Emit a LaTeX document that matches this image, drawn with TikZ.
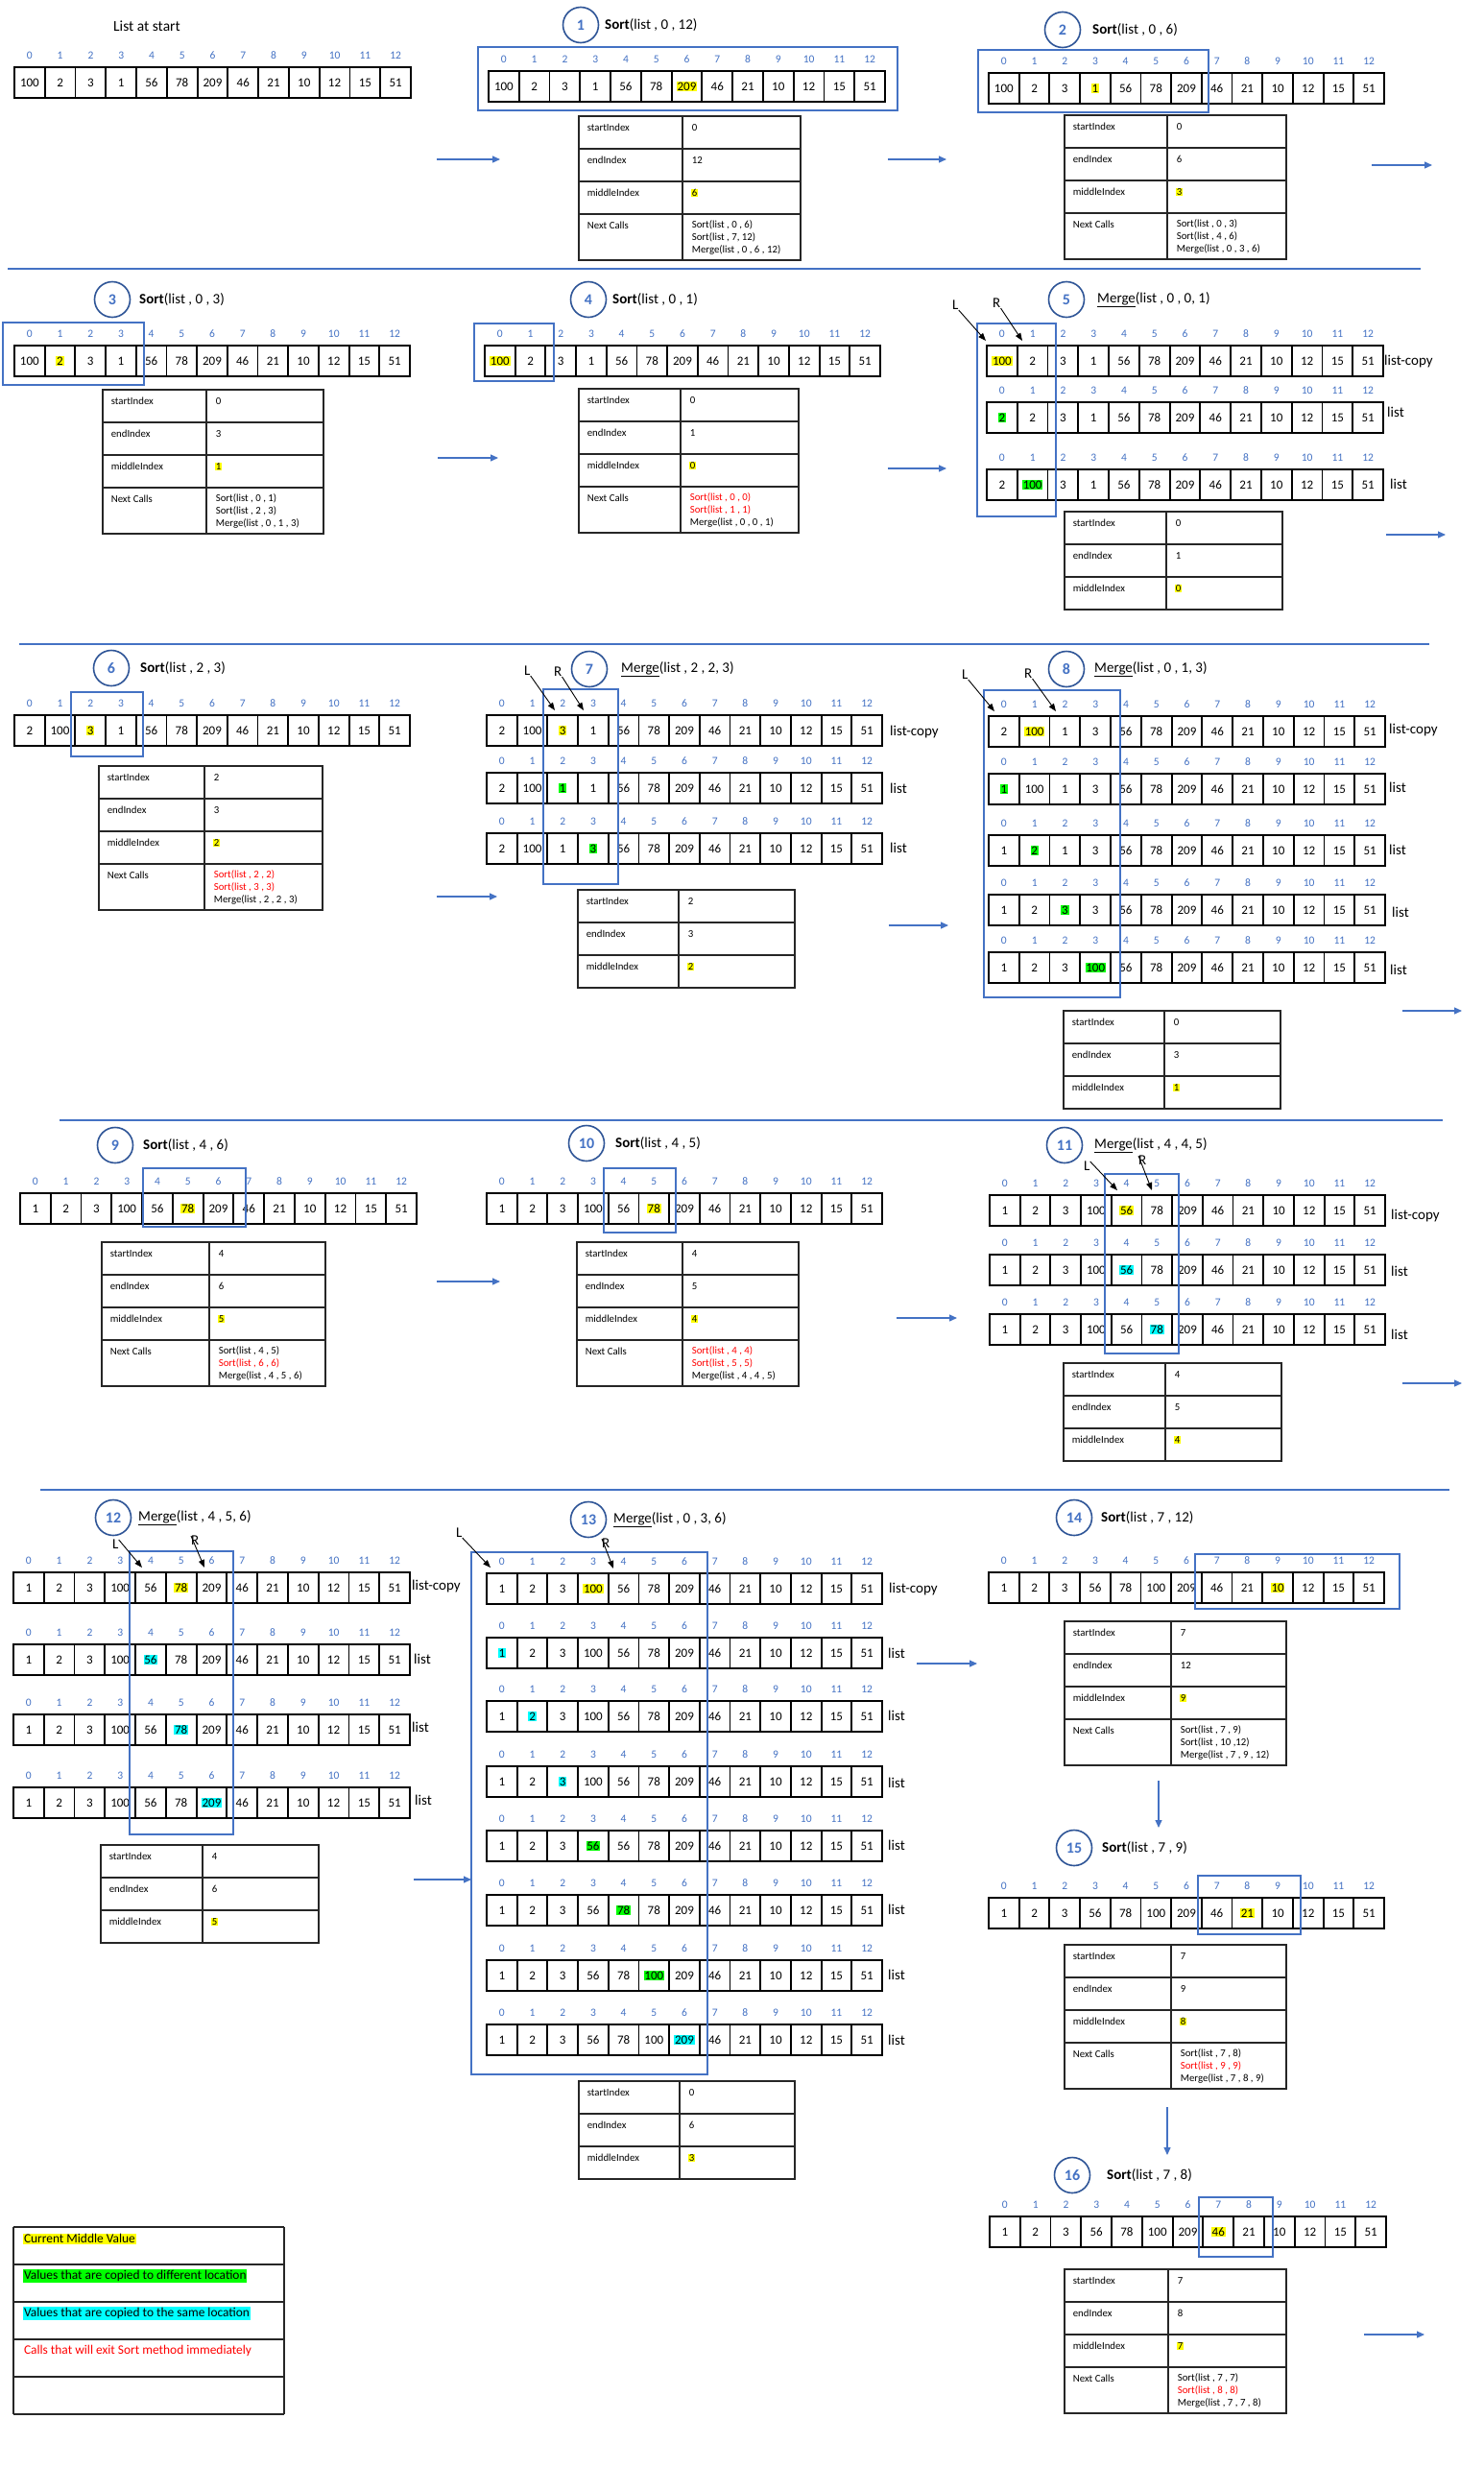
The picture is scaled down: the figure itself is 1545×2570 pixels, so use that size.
\documentclass[tikz,border=0pt]{standalone}
\usepackage{fontspec}
\setmainfont{Carlito}
\usetikzlibrary{arrows.meta}
\definecolor{ib}{HTML}{4472C4}
\definecolor{cb}{HTML}{2F5597}
\definecolor{hy}{HTML}{FFFF00}
\definecolor{hg}{HTML}{00FF00}
\definecolor{hc}{HTML}{00FFFF}
\definecolor{hr}{HTML}{FF0000}
\tikzset{
 cellbox/.style={draw=black, line width=1.8pt, inner sep=0pt, outer sep=0pt},
 valtxt/.style={font=\fontsize{13}{13}\selectfont, inner sep=0.8pt, text=black},
 idxtxt/.style={font=\fontsize{11.5}{11.5}\selectfont, text=ib, inner sep=0pt},
 framebox/.style={draw=ib, line width=2pt},
 numcirc/.style={circle, draw=cb, line width=1.6pt, minimum size=37pt, inner sep=0pt, text=ib, font=\fontsize{16}{16}\selectfont\bfseries},
 titletxt/.style={anchor=west, font=\fontsize{15}{15}\selectfont, inner sep=0pt},
 tline/.style={draw=black!85, line width=1.2pt},
 tlab/.style={anchor=west, font=\fontsize{10.8}{10.8}\selectfont, inner sep=0.6pt},
 flow/.style={draw=ib, line width=1.2pt, -{Triangle[length=8pt,width=7pt]}},
 ptr/.style={draw=black, line width=0.9pt, -{Triangle[length=8pt,width=6pt]}},
 ltxt/.style={anchor=west, font=\fontsize{15}{15}\selectfont, inner sep=0pt},
 sep/.style={draw=ib, line width=1.2pt},
 legtxt/.style={anchor=west, font=\fontsize{13.4}{13.4}\selectfont, inner sep=0.8pt},
}
% array: name, xleft, xright, ytop, height, values, highlight index, highlight colour
\newcommand\arr[8]{%
 \pgfmathsetmacro\cw{(#3-#2)/13}%
 \pgfmathsetmacro\cy{#4+#5/2}%
 \foreach \v [count=\i from 0] in {#6}{%
   \pgfmathsetmacro\cx{#2+(\i+0.5)*\cw}%
   \ifnum\i=#7\relax\def\hlc{#8}\else\def\hlc{none}\fi
   \node[cellbox, minimum width=\cw pt, minimum height=#5pt] (#1c\i) at (\cx,\cy) {};
   \node[valtxt, fill=\hlc] (#1v\i) at (\cx,\cy) {\v};
   \node[idxtxt] (#1i\i) at (\cx,{#4-12.5}) {\i};
 }%
 \draw[line width=2.6pt] (#2,#4) rectangle (#3,{#4+#5});
}
% table: name, xl, xs, xr, ytop, start, end, middle
\newcommand\tbl[8]{%
 \foreach \k/\lab in {0/startIndex,1/endIndex,2/middleIndex}{%
   \draw[tline] (#2,{#5+34*\k}) rectangle (#3,{#5+34*(\k+1)});
   \draw[tline] (#3,{#5+34*\k}) rectangle (#4,{#5+34*(\k+1)});
   \node[tlab] (#1l\k) at ({#2+8},{#5+34*\k+12}) {\lab};
 }%
 \node[tlab] (#1s) at ({#3+9},{#5+12}) {#6};
 \node[tlab] (#1e) at ({#3+9},{#5+46}) {#7};
 \node[tlab, fill=hy] (#1m) at ({#3+9},{#5+80}) {#8};
}
\newcommand\nxt[8]{%
 \draw[tline] (#2,{#5+102}) rectangle (#3,{#5+150});
 \draw[tline] (#3,{#5+102}) rectangle (#4,{#5+150});
 \node[tlab] (#1nl) at ({#2+8},{#5+114}) {Next Calls};
 \node[tlab] (#1n1) at ({#3+9},{#5+113}) {#6};
 \node[tlab] (#1n2) at ({#3+9},{#5+126}) {#7};
 \node[tlab] (#1n3) at ({#3+9},{#5+139}) {#8};
}
% head: name, cx, cy, number, title x, title
\newcommand\head[6]{%
 \node[numcirc] (#1n) at (#2,#3) {#4};
 \node[titletxt] (#1t) at (#5,#3) {#6};
}
\newcommand\flowarrow[5]{%
 \coordinate (#1s) at (#2,#3); \coordinate (#1e) at (#4,#5);
 \draw[flow] (#1s) -- (#1e);
}
\newcommand\red[1]{\textcolor{hr}{#1}}
\begin{document}
\begin{tikzpicture}[x=1pt,y=-1pt]
\useasboundingbox (0,0) rectangle (1545,2570);
\fill[white] (0,0) rectangle (1545,2570);
% separators
\draw[sep] (8,280) -- (1480,280);
\draw[sep] (20,671) -- (1489,671);
\draw[sep] (62,1167) -- (1503,1167);
\draw[sep] (42,1552) -- (1510,1552);

% ---------- P0
\node[font=\fontsize{15.5}{15.5}\selectfont] (p0t) at (153,27) {List at start};
\arr{p0}{15}{428}{70}{32}{100,2,3,1,56,78,209,46,21,10,12,15,51}{-1}{none}

% ---------- P1
\head{p1}{605}{26}{1}{630}{{\bfseries Sort}(list , 0 , 12)}
\arr{p1}{509}{922}{74}{32}{100,2,3,1,56,78,209,46,21,10,12,15,51}{6}{hy}
\draw[framebox] (498,49) rectangle (935,115);
\tbl{p1}{603}{711}{834}{121}{0}{12}{6}
\nxt{p1}{603}{711}{834}{121}{Sort(list , 0 , 6)}{Sort(list , 7, 12)}{Merge(list , 0 , 6 , 12)}
\flowarrow{a1}{455}{166}{521}{166}
\flowarrow{a2}{925}{166}{986}{166}

% ---------- P2
\head{p2}{1107}{31}{2}{1138}{{\bfseries Sort}(list , 0 , 6)}
\arr{p2}{1030}{1442}{76}{32}{100,2,3,1,56,78,209,46,21,10,12,15,51}{3}{hy}
\draw[framebox] (1019,52) rectangle (1259,117);
\tbl{p2}{1109}{1216}{1340}{120}{0}{6}{3}
\nxt{p2}{1109}{1216}{1340}{120}{Sort(list , 0 , 3)}{Sort(list , 4 , 6)}{Merge(list , 0 , 3 , 6)}
\flowarrow{a3}{1429}{172}{1492}{172}

% ---------- P3
\head{p3}{117}{312}{3}{145}{{\bfseries Sort}(list , 0 , 3)}
\arr{p3}{15}{427}{360}{32}{100,2,3,1,56,78,209,46,21,10,12,15,51}{1}{hy}
\draw[framebox] (3,336) rectangle (150,401);
\tbl{p3}{107}{215}{337}{406}{0}{3}{1}
\nxt{p3}{107}{215}{337}{406}{Sort(list , 0 , 1)}{Sort(list , 2 , 3)}{Merge(list , 0 , 1 , 3)}
\flowarrow{a4}{456}{477}{519}{477}

% ---------- P4
\head{p4}{613}{312}{4}{638}{{\bfseries Sort}(list , 0 , 1)}
\arr{p4}{505}{917}{360}{32}{100,2,3,1,56,78,209,46,21,10,12,15,51}{0}{hy}
\draw[framebox] (494,337) rectangle (577,397);
\tbl{p4}{603}{709}{832}{405}{0}{1}{0}
\nxt{p4}{603}{709}{832}{405}{\red{Sort(list , 0 , 0)}}{\red{Sort(list , 1 , 1)}}{Merge(list , 0 , 0 , 1)}
\flowarrow{a5}{925}{488}{986}{488}

% ---------- P5
\head{p5}{1111}{312}{5}{1143}{\underline{Merge}(list , 0 , 0, 1)}
\arr{p5a}{1028}{1441}{360}{32}{100,2,3,1,56,78,209,46,21,10,12,15,51}{0}{hy}
\arr{p5b}{1028}{1441}{419}{32}{2,2,3,1,56,78,209,46,21,10,12,15,51}{0}{hg}
\arr{p5c}{1028}{1441}{489}{32}{2,100,3,1,56,78,209,46,21,10,12,15,51}{1}{hg}
\draw[framebox] (1018,337) rectangle (1100,538);
\node[ltxt] (p5la) at (1442,376) {list-copy};
\node[ltxt] (p5lb) at (1445,429) {list};
\node[ltxt] (p5lc) at (1448,504) {list};
\node[ltxt] (p5L) at (992,318) {L};
\node[ltxt] (p5R) at (1034,316) {R};
\coordinate (p5Lt) at (1027,355); \coordinate (p5Rt) at (1065,355);
\draw[ptr] (p5L.south east) -- (p5Lt);
\draw[ptr] (p5R.south east) -- (p5Rt);
\tbl{p5}{1109}{1215}{1336}{533}{0}{1}{0}
\flowarrow{a6}{1444}{557}{1506}{557}

% ---------- P6
\head{p6}{116}{696}{6}{146}{{\bfseries Sort}(list , 2 , 3)}
\arr{p6}{15}{427}{745}{32}{2,100,3,1,56,78,209,46,21,10,12,15,51}{2}{hy}
\draw[framebox] (74,721) rectangle (149,788);
\tbl{p6}{103}{213}{336}{798}{2}{3}{2}
\nxt{p6}{103}{213}{336}{798}{\red{Sort(list , 2 , 2)}}{\red{Sort(list , 3 , 3)}}{Merge(list , 2 , 2 , 3)}
\flowarrow{a7}{455}{934}{518}{934}

% ---------- P7
\head{p7}{614}{697}{7}{647}{\underline{Merge}(list , 2 , 2, 3)}
\arr{p7a}{507}{919}{745}{32}{2,100,3,1,56,78,209,46,21,10,12,15,51}{2}{hy}
\arr{p7b}{507}{919}{805}{32}{2,100,1,1,56,78,209,46,21,10,12,15,51}{2}{hg}
\arr{p7c}{507}{919}{868}{32}{2,100,1,3,56,78,209,46,21,10,12,15,51}{3}{hg}
\draw[framebox] (566,718) rectangle (644,921);
\node[ltxt] (p7la) at (927,762) {list-copy};
\node[ltxt] (p7lb) at (927,821) {list};
\node[ltxt] (p7lc) at (927,883) {list};
\node[ltxt] (p7L) at (546,699) {L};
\node[ltxt] (p7R) at (577,700) {R};
\coordinate (p7Lt) at (578,740); \coordinate (p7Rt) at (608,740);
\draw[ptr] (p7L.south east) -- (p7Lt);
\draw[ptr] (p7R.south east) -- (p7Rt);
\tbl{p7}{602}{707}{828}{927}{2}{3}{2}
\flowarrow{a8}{926}{964}{988}{964}

% ---------- P8
\head{p8}{1111}{697}{8}{1140}{\underline{Merge}(list , 0 , 1, 3)}
\arr{p8a}{1030}{1443}{746}{32}{2,100,1,3,56,78,209,46,21,10,12,15,51}{1}{hy}
\arr{p8b}{1030}{1443}{806}{32}{1,100,1,3,56,78,209,46,21,10,12,15,51}{0}{hg}
\arr{p8c}{1030}{1443}{870}{32}{1,2,1,3,56,78,209,46,21,10,12,15,51}{1}{hg}
\arr{p8d}{1030}{1443}{932}{32}{1,2,3,3,56,78,209,46,21,10,12,15,51}{2}{hg}
\arr{p8e}{1030}{1443}{992}{32}{1,2,3,100,56,78,209,46,21,10,12,15,51}{3}{hg}
\draw[framebox] (1025,719) rectangle (1167,1039);
\node[ltxt] (p8la) at (1447,760) {list-copy};
\node[ltxt] (p8lb) at (1447,820) {list};
\node[ltxt] (p8lc) at (1447,885) {list};
\node[ltxt] (p8ld) at (1450,950) {list};
\node[ltxt] (p8le) at (1448,1010) {list};
\node[ltxt] (p8L) at (1002,703) {L};
\node[ltxt] (p8R) at (1067,702) {R};
\coordinate (p8Lt) at (1036,741); \coordinate (p8Rt) at (1100,741);
\draw[ptr] (p8L.south east) -- (p8Lt);
\draw[ptr] (p8R.south east) -- (p8Rt);
\tbl{p8}{1108}{1213}{1334}{1053}{0}{3}{1}
\flowarrow{a9}{1461}{1053}{1523}{1053}

% ---------- P9
\head{p9}{120}{1193}{9}{149}{{\bfseries Sort}(list , 4 , 6)}
\arr{p9}{21}{434}{1243}{32}{1,2,3,100,56,78,209,46,21,10,12,15,51}{5}{hy}
\draw[framebox] (149,1217) rectangle (256,1278);
\tbl{p9}{106}{218}{339}{1294}{4}{6}{5}
\nxt{p9}{106}{218}{339}{1294}{Sort(list , 4 , 5)}{\red{Sort(list , 6 , 6)}}{Merge(list , 4 , 5 , 6)}
\flowarrow{a10}{455}{1335}{521}{1335}

% ---------- P10
\head{p10}{611}{1191}{10}{641}{{\bfseries Sort}(list , 4 , 5)}
\arr{p10}{507}{919}{1243}{32}{1,2,3,100,56,78,209,46,21,10,12,15,51}{5}{hy}
\draw[framebox] (629,1217) rectangle (704,1284);
\tbl{p10}{601}{711}{832}{1294}{4}{5}{4}
\nxt{p10}{601}{711}{832}{1294}{\red{Sort(list , 4 , 4)}}{\red{Sort(list , 5 , 5)}}{Merge(list , 4 , 4 , 5)}
\flowarrow{a11}{934}{1373}{997}{1373}

% ---------- P11
\head{p11}{1109}{1193}{11}{1140}{\underline{Merge}(list , 4 , 4, 5)}
\arr{p11a}{1031}{1443}{1245}{32}{1,2,3,100,56,78,209,46,21,10,12,15,51}{4}{hy}
\arr{p11b}{1031}{1443}{1307}{32}{1,2,3,100,56,78,209,46,21,10,12,15,51}{4}{hc}
\arr{p11c}{1031}{1443}{1369}{32}{1,2,3,100,56,78,209,46,21,10,12,15,51}{5}{hc}
\draw[framebox] (1151,1223) rectangle (1228,1410);
\node[ltxt] (p11la) at (1449,1266) {list-copy};
\node[ltxt] (p11lb) at (1449,1324) {list};
\node[ltxt] (p11lc) at (1449,1390) {list};
\node[ltxt] (p11L) at (1129,1215) {L};
\node[ltxt] (p11R) at (1186,1209) {R};
\coordinate (p11Lt) at (1164,1240); \coordinate (p11Rt) at (1200,1240);
\draw[ptr] (p11L.north east) -- (p11Lt);
\draw[ptr] (p11R.north west) -- (p11Rt);
\tbl{p11}{1108}{1214}{1335}{1420}{4}{5}{4}
\flowarrow{a12}{1461}{1441}{1523}{1441}

% ---------- P12
\head{p12}{118}{1581}{12}{144}{\underline{Merge}(list , 4 , 5, 6)}
\arr{p12a}{14}{427}{1638}{32}{1,2,3,100,56,78,209,46,21,10,12,15,51}{5}{hy}
\arr{p12b}{14}{427}{1713}{32}{1,2,3,100,56,78,209,46,21,10,12,15,51}{4}{hc}
\arr{p12c}{14}{427}{1786}{32}{1,2,3,100,56,78,209,46,21,10,12,15,51}{5}{hc}
\arr{p12d}{14}{427}{1862}{32}{1,2,3,100,56,78,209,46,21,10,12,15,51}{6}{hc}
\draw[framebox] (135,1616) rectangle (243,1911);
\node[ltxt] (p12la) at (429,1652) {list-copy};
\node[ltxt] (p12lb) at (431,1728) {list};
\node[ltxt] (p12lc) at (429,1799) {list};
\node[ltxt] (p12ld) at (432,1875) {list};
\node[ltxt] (p12L) at (117,1609) {L};
\node[ltxt] (p12R) at (199,1605) {R};
\coordinate (p12Lt) at (148,1633); \coordinate (p12Rt) at (213,1633);
\draw[ptr] (p12L.north east) -- (p12Lt);
\draw[ptr] (p12R.north west) -- (p12Rt);
\tbl{p12}{105}{211}{332}{1922}{4}{6}{5}
\flowarrow{a13}{431}{1958}{491}{1958}

% ---------- P13
\head{p13}{613}{1583}{13}{639}{\underline{Merge}(list , 0 , 3, 6)}
\arr{p13a}{507}{919}{1639}{32}{1,2,3,100,56,78,209,46,21,10,12,15,51}{3}{hy}
\arr{p13b}{507}{919}{1706}{32}{1,2,3,100,56,78,209,46,21,10,12,15,51}{0}{hc}
\arr{p13c}{507}{919}{1772}{32}{1,2,3,100,56,78,209,46,21,10,12,15,51}{1}{hc}
\arr{p13d}{507}{919}{1840}{32}{1,2,3,100,56,78,209,46,21,10,12,15,51}{2}{hc}
\arr{p13e}{507}{919}{1907}{32}{1,2,3,56,56,78,209,46,21,10,12,15,51}{3}{hg}
\arr{p13f}{507}{919}{1974}{32}{1,2,3,56,78,78,209,46,21,10,12,15,51}{4}{hg}
\arr{p13g}{507}{919}{2042}{32}{1,2,3,56,78,100,209,46,21,10,12,15,51}{5}{hg}
\arr{p13h}{507}{919}{2109}{32}{1,2,3,56,78,100,209,46,21,10,12,15,51}{6}{hc}
\draw[framebox] (491,1617) rectangle (737,2161);
\node[ltxt] (p13la) at (926,1655) {list-copy};
\node[ltxt] (p13lb) at (925,1722) {list};
\node[ltxt] (p13lc) at (925,1787) {list};
\node[ltxt] (p13ld) at (925,1857) {list};
\node[ltxt] (p13le) at (925,1922) {list};
\node[ltxt] (p13lf) at (925,1989) {list};
\node[ltxt] (p13lg) at (925,2057) {list};
\node[ltxt] (p13lh) at (925,2125) {list};
\node[ltxt] (p13L) at (475,1597) {L};
\node[ltxt] (p13R) at (627,1608) {R};
\coordinate (p13Lt) at (511,1633); \coordinate (p13Rt) at (639,1634);
\draw[ptr] (p13L.south east) -- (p13Lt);
\draw[ptr] (p13R.north west) -- (p13Rt);
\tbl{p13}{603}{708}{828}{2168}{0}{6}{3}
\flowarrow{a14}{955}{1733}{1018}{1733}

% ---------- P14
\head{p14}{1119}{1581}{14}{1147}{{\bfseries Sort}(list , 7 , 12)}
\arr{p14}{1030}{1442}{1638}{32}{1,2,3,56,78,100,209,46,21,10,12,15,51}{9}{hy}
\draw[framebox] (1245,1619) rectangle (1458,1676);
\tbl{p14}{1109}{1220}{1340}{1689}{7}{12}{9}
\nxt{p14}{1109}{1220}{1340}{1689}{Sort(list , 7 , 9)}{Sort(list , 10 ,12)}{Merge(list , 7 , 9 , 12)}
\flowarrow{a15}{1207}{1855}{1207}{1904}

% ---------- P15
\head{p15}{1119}{1925}{15}{1148}{{\bfseries Sort}(list , 7 , 9)}
\arr{p15}{1030}{1442}{1977}{32}{1,2,3,56,78,100,209,46,21,10,12,15,51}{8}{hy}
\draw[framebox] (1248,1954) rectangle (1355,2015);
\tbl{p15}{1109}{1220}{1340}{2026}{7}{9}{8}
\nxt{p15}{1109}{1220}{1340}{2026}{Sort(list , 7 , 8)}{\red{Sort(list , 9 , 9)}}{Merge(list , 7 , 8 , 9)}
\flowarrow{a16}{1216}{2195}{1216}{2245}

% ---------- P16
\head{p16}{1117}{2266}{16}{1153}{{\bfseries Sort}(list , 7 , 8)}
\arr{p16}{1031}{1444}{2309}{32}{1,2,3,56,78,100,209,46,21,10,12,15,51}{7}{hy}
\draw[framebox] (1249,2289) rectangle (1326,2351);
\tbl{p16}{1109}{1217}{1340}{2364}{7}{8}{7}
\nxt{p16}{1109}{1217}{1340}{2364}{Sort(list , 7 , 7)}{\red{Sort(list , 8 , 8)}}{Merge(list , 7 , 7 , 8)}
\flowarrow{a17}{1421}{2432}{1484}{2432}

% ---------- legend
\foreach \yy in {2320,2359,2398,2437,2476,2515}{\draw[tline] (14,\yy) -- (296,\yy);}
\draw[tline] (14,2320) -- (14,2515);
\draw[tline] (296,2320) -- (296,2515);
\node[legtxt, fill=hy] (lg1) at (24,2332) {Current Middle Value};
\node[legtxt, fill=hg] (lg2) at (24,2371) {Values that are copied to different location};
\node[legtxt, fill=hc] (lg3) at (24,2410) {Values that are copied to the same location};
\node[legtxt, text=hr] (lg4) at (24,2449) {Calls that will exit Sort method immediately};
\end{tikzpicture}
\end{document}
